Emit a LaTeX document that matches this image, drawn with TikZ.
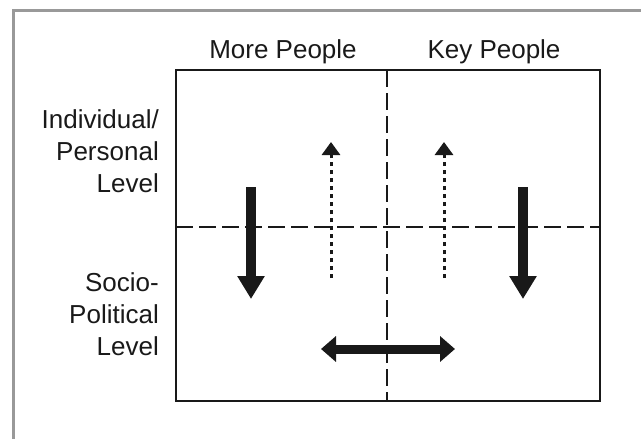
\documentclass[tikz,border=0pt]{standalone}
\usepackage{fontspec}
\setmainfont{Liberation Sans}
\usepackage{tikz}
\usetikzlibrary{arrows.meta,positioning}

\begin{document}
\begin{tikzpicture}[x=1pt,y=-1pt,
	headtext/.style={inner sep=0pt, text=black!90, font=\fontsize{26}{32}\selectfont},
	rowtext/.style={headtext, align=right, anchor=east},
	outerframe/.style={draw=black!40, line width=3pt},
	matrixbox/.style={draw=black!90, line width=2.4pt, rectangle, minimum width=424pt, minimum height=331pt, inner sep=0pt},
	divider/.style={draw=black!90, line width=1.3pt, dash pattern=on 17pt off 6pt},
	dropbar/.style={draw=black!90, fill=black!90, line width=10pt, -{Triangle[length=23pt,width=26pt]}},
	twoway/.style={draw=black!90, line width=9pt, {Triangle[length=15pt,width=25pt]}-{Triangle[length=15pt,width=25pt]}},
	drift/.style={draw=black!90, line width=3pt, dash pattern=on 4pt off 4pt, -{Triangle[length=13pt,width=18pt]}}
	]
\useasboundingbox (0,0) rectangle (641,439);

% outer frame
\coordinate (fbl) at (13,445);
\coordinate (ftl) at (13,10);
\coordinate (ftr) at (650,10);
\draw[outerframe] (fbl) -- (ftl) -- (ftr);

% the matrix
\node [matrixbox] at (388,235.5) (box) {};
\coordinate (midtop) at (387,70);
\coordinate (midbot) at (387,401);
\coordinate (rowl) at (176,227);
\coordinate (rowr) at (600,227);
\draw[divider] (midtop) -- (midbot);
\draw[divider] (rowl) -- (rowr);

% column and row headings
\node [headtext, anchor=base] at (283,58) (more) {More People};
\node [headtext, anchor=base] at (494,58) (key) {Key People};
\node [rowtext] at (159,151) (indiv) {Individual/\\Personal\\Level};
\node [rowtext] at (159,314) (socio) {Socio-\\Political\\Level};

% arrows
\coordinate (l1) at (251,187);
\coordinate (l2) at (251,299);
\coordinate (r1) at (523,187);
\coordinate (r2) at (523,299);
\coordinate (d1a) at (331,278);
\coordinate (d1b) at (331,142);
\coordinate (d2a) at (444,278);
\coordinate (d2b) at (444,142);
\coordinate (h1) at (321,349);
\coordinate (h2) at (455,349);

\draw[dropbar] (l1) -- (l2);
\draw[dropbar] (r1) -- (r2);
\draw[drift] (d1a) -- (d1b);
\draw[drift] (d2a) -- (d2b);
\draw[twoway] (h1) -- (h2);

\end{tikzpicture}
\end{document}
